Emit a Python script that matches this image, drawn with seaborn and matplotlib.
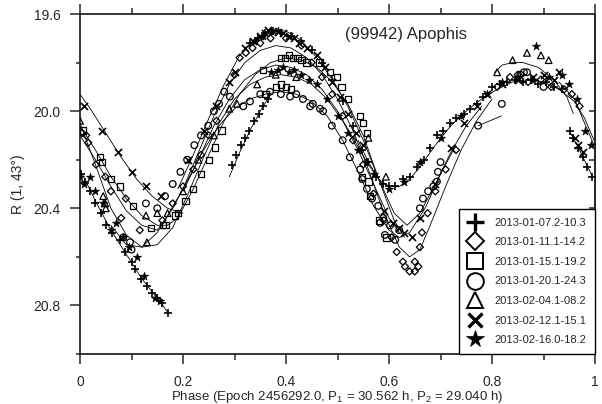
import numpy as np
import pandas as pd
import matplotlib
matplotlib.use("Agg")
import matplotlib.pyplot as plt
from matplotlib.lines import Line2D
from matplotlib.ticker import FixedLocator
import seaborn as sns

# --- observing sessions (legend labels) ---
sessions = ['2013-01-07.2-10.3', '2013-01-11.1-14.2', '2013-01-15.1-19.2',
            '2013-01-20.1-24.3', '2013-02-04.1-08.2', '2013-02-12.1-15.1',
            '2013-02-16.0-18.2']

# --- photometry (phase, R mag) ---
plus_phase = [0.002, 0.010, 0.020, 0.029, 0.040, 0.050, 0.062, 0.078, 0.087, 0.100, 0.107, 0.118, 0.130, 0.140, 0.150, 0.160, 0.171,
              0.295, 0.302, 0.312, 0.320, 0.328, 0.338, 0.347, 0.356, 0.365,
              0.330, 0.345, 0.360, 0.375, 0.390, 0.410, 0.430, 0.450, 0.470, 0.490, 0.510, 0.530,
              0.548, 0.560, 0.575, 0.588, 0.600, 0.612, 0.628, 0.640, 0.655, 0.668, 0.680, 0.693, 0.705, 0.718, 0.730, 0.745, 0.757, 0.770, 0.782,
              0.800, 0.815, 0.830, 0.845, 0.860, 0.875, 0.890, 0.905, 0.920, 0.935,
              0.951, 0.958, 0.967, 0.977, 0.984, 0.994]
plus_mag = [20.26, 20.29, 20.33, 20.38, 20.42, 20.47, 20.50, 20.53, 20.58, 20.62, 20.65, 20.69, 20.72, 20.75, 20.77, 20.79, 20.83,
            20.22, 20.18, 20.14, 20.11, 20.08, 20.04, 20.01, 19.98, 19.95,
            19.72, 19.70, 19.68, 19.67, 19.68, 19.69, 19.71, 19.75, 19.80, 19.87, 19.96, 20.06,
            20.16, 20.21, 20.27, 20.30, 20.31, 20.31, 20.28, 20.27, 20.23, 20.20, 20.15, 20.10, 20.08, 20.05, 20.03, 20.01, 19.99, 19.97, 19.94,
            19.90, 19.89, 19.88, 19.87, 19.88, 19.87, 19.89, 19.88, 19.90, 19.91,
            20.08, 20.11, 20.15, 20.19, 20.23, 20.27]

diamond_phase = [0.004, 0.012, 0.016, 0.031, 0.049, 0.060, 0.080, 0.089, 0.116,
                 0.160, 0.180, 0.200, 0.220, 0.235, 0.250, 0.265,
                 0.300, 0.310, 0.322, 0.335, 0.350, 0.370, 0.400, 0.430,
                 0.450, 0.470, 0.490, 0.510, 0.530, 0.550, 0.570, 0.590,
                 0.605, 0.615, 0.627, 0.631, 0.640, 0.650, 0.657, 0.650, 0.660, 0.664,
                 0.675, 0.690, 0.710, 0.730,
                 0.810, 0.835, 0.850, 0.870, 0.895, 0.915, 0.940, 0.955, 0.970]
diamond_mag = [20.09, 20.10, 20.13, 20.22, 20.27, 20.33, 20.44, 20.36, 20.49,
               20.45, 20.38, 20.31, 20.24, 20.18, 20.10, 20.04,
               19.85, 19.78, 19.76, 19.74, 19.72, 19.70, 19.70, 19.73,
               19.80, 19.86, 19.93, 20.02, 20.12, 20.22, 20.34, 20.45,
               20.52, 20.58, 20.62, 20.64, 20.66, 20.66, 20.64, 20.62, 20.56, 20.50,
               20.42, 20.33, 20.24, 20.16,
               19.90, 19.86, 19.85, 19.88, 19.87, 19.90, 19.91, 19.93, 19.98]

square_phase = [0.006, 0.039, 0.043, 0.060, 0.078, 0.103, 0.138, 0.161, 0.166, 0.184,
                0.190, 0.205, 0.220, 0.235, 0.250, 0.262, 0.275,
                0.355, 0.390, 0.398, 0.406, 0.414, 0.422, 0.430, 0.440,
                0.360, 0.380, 0.390, 0.400, 0.410,
                0.465, 0.485, 0.499, 0.508, 0.521, 0.544, 0.550, 0.557,
                0.547, 0.560, 0.563, 0.580, 0.595]
square_mag = [20.08, 20.19, 20.21, 20.28, 20.31, 20.39, 20.48, 20.47, 20.47, 20.43,
              20.42, 20.37, 20.32, 20.26, 20.20, 20.15, 20.08,
              19.83, 19.78, 19.78, 19.77, 19.78, 19.78, 19.79, 19.80,
              19.93, 19.90, 19.89, 19.90, 19.91,
              19.80, 19.84, 19.86, 19.90, 19.95, 20.02, 20.05, 20.09,
              20.27, 20.29, 20.35, 20.45, 20.52]

circle_phase = [0.084, 0.097, 0.100, 0.128,
                0.150, 0.165, 0.180, 0.195, 0.208, 0.222, 0.235, 0.249, 0.260, 0.270, 0.280, 0.291,
                0.317, 0.330, 0.350, 0.369, 0.390, 0.408, 0.420, 0.433, 0.447, 0.452, 0.466, 0.472,
                0.489, 0.510, 0.524, 0.544, 0.548, 0.557, 0.567, 0.579, 0.589, 0.602,
                0.583, 0.592, 0.612, 0.620,
                0.660, 0.666, 0.676, 0.686, 0.693, 0.695, 0.700,
                0.773, 0.819,
                0.855, 0.862, 0.868, 0.900]
circle_mag = [20.52, 20.54, 20.57, 20.38,
              20.40, 20.35, 20.30, 20.25, 20.20, 20.14, 20.10, 20.06, 20.00, 19.97, 19.92, 19.94,
              19.98, 19.96, 19.93, 19.92, 19.93, 19.94, 19.93, 19.95, 19.98, 19.97, 19.99, 20.00,
              20.06, 20.12, 20.19, 20.24, 20.28, 20.32, 20.36, 20.39, 20.44, 20.47,
              20.46, 20.51, 20.53, 20.49,
              20.40, 20.36, 20.33, 20.31, 20.29, 20.25, 20.21,
              20.06, 19.97,
              19.85, 19.84, 19.84, 19.90]

triangle_phase = [0.000, 0.045, 0.049, 0.050, 0.128, 0.130, 0.150,
                  0.170, 0.200, 0.230, 0.260, 0.290, 0.305,
                  0.344, 0.380, 0.420,
                  0.560, 0.594,
                  0.810, 0.840, 0.868, 0.895, 0.910]
triangle_mag = [20.04, 20.35, 20.38, 20.40, 20.43, 20.54, 20.42,
                20.42, 20.33, 20.20, 20.10, 19.99, 19.97,
                19.89, 19.85, 19.86,
                20.11, 20.27,
                19.84, 19.79, 19.76, 19.77, 19.79]

cross_phase = [0.008, 0.043, 0.074, 0.101, 0.128, 0.157,
               0.210, 0.240, 0.265, 0.290, 0.300,
               0.320, 0.335, 0.350, 0.360, 0.365, 0.375, 0.385, 0.395, 0.405, 0.415, 0.425, 0.440,
               0.460, 0.475, 0.490, 0.505, 0.520, 0.535, 0.550,
               0.590, 0.608, 0.620, 0.630, 0.645, 0.660,
               0.690, 0.720, 0.745, 0.770,
               0.790, 0.820, 0.850, 0.880, 0.900, 0.920, 0.930,
               0.961, 0.967, 0.977]
cross_mag = [19.98, 20.08, 20.17, 20.25, 20.31, 20.35,
             20.20, 20.08, 19.98, 19.88, 19.84,
             19.74, 19.71, 19.69, 19.68, 19.665, 19.67, 19.675, 19.68, 19.69, 19.70, 19.72, 19.74,
             19.77, 19.82, 19.88, 19.94, 20.01, 20.09, 20.14,
             20.41, 20.46, 20.48, 20.50, 20.52, 20.44,
             20.30, 20.15, 20.05, 19.98,
             19.93, 19.89, 19.87, 19.86, 19.85, 19.87, 19.84,
             20.11, 20.14, 20.17]

star_phase = [0.000, 0.008, 0.019, 0.030, 0.045, 0.060, 0.070, 0.083, 0.095, 0.110, 0.125, 0.146, 0.155,
              0.340, 0.355, 0.370, 0.385,
              0.370, 0.385, 0.395, 0.405, 0.415, 0.430, 0.445,
              0.460, 0.480, 0.500, 0.520, 0.540, 0.555, 0.570,
              0.600, 0.630, 0.660, 0.700, 0.740,
              0.790, 0.820, 0.850, 0.885, 0.880, 0.910, 0.935, 0.950,
              0.965, 0.980, 0.992]
star_mag = [20.27, 20.30, 20.27, 20.33, 20.38, 20.49, 20.46, 20.52, 20.56, 20.60, 20.68, 20.77, 20.78,
            19.71, 19.69, 19.67, 19.67,
            19.84, 19.83, 19.82, 19.84, 19.83, 19.85, 19.87,
            19.89, 19.95, 20.02, 20.09, 20.16, 20.21, 20.26,
            20.32, 20.29, 20.21, 20.11, 20.02,
            19.93, 19.88, 19.86, 19.73, 19.87, 19.86, 19.85, 19.89,
            19.95, 20.08, 20.14]

# --- fitted Fourier curves, as segments of (phase, mag) knots ---
plus_fit = [([0.0, 0.03, 0.06, 0.09, 0.12, 0.15, 0.171],
             [20.24, 20.37, 20.49, 20.59, 20.69, 20.77, 20.83]),
            ([0.29, 0.31, 0.33, 0.35, 0.37],
             [20.27, 20.17, 20.08, 20.00, 19.93]),
            ([0.54, 0.56, 0.58, 0.60, 0.62, 0.64, 0.66, 0.69, 0.72, 0.75, 0.78, 0.81, 0.84, 0.87, 0.90, 0.93, 0.96, 0.98, 1.0],
             [20.12, 20.21, 20.28, 20.31, 20.31, 20.28, 20.23, 20.14, 20.06, 20.00, 19.95, 19.91, 19.88, 19.87, 19.88, 19.91, 19.96, 20.03, 20.13]),
            ([0.95, 0.97, 0.995], [20.08, 20.16, 20.27])]
diamond_fit = [([0.0, 0.03, 0.06, 0.09, 0.12, 0.15],
                [20.10, 20.20, 20.31, 20.41, 20.47, 20.49]),
               ([0.15, 0.17, 0.20, 0.23, 0.26, 0.29, 0.32, 0.35, 0.38, 0.41, 0.44, 0.47, 0.50, 0.53, 0.56, 0.59, 0.62, 0.64, 0.66, 0.68, 0.71, 0.74, 0.77, 0.80],
                [20.49, 20.43, 20.32, 20.17, 20.02, 19.89, 19.80, 19.75, 19.73, 19.74, 19.78, 19.85, 19.95, 20.08, 20.24, 20.42, 20.56, 20.60, 20.57, 20.47, 20.31, 20.16, 20.04, 19.95])]
square_fit = [([0.0, 0.03, 0.06, 0.09, 0.12, 0.15, 0.17, 0.19],
               [20.06, 20.16, 20.27, 20.36, 20.43, 20.47, 20.47, 20.44]),
              ([0.19, 0.22, 0.25, 0.28, 0.31, 0.34, 0.37, 0.40, 0.43, 0.46, 0.49, 0.52, 0.55, 0.58, 0.61, 0.63],
               [20.44, 20.32, 20.18, 20.04, 19.93, 19.85, 19.80, 19.78, 19.79, 19.82, 19.88, 19.97, 20.10, 20.28, 20.45, 20.52])]
circle_fit = [([0.06, 0.09, 0.12, 0.15, 0.18, 0.21, 0.24, 0.27, 0.30, 0.33, 0.36, 0.39, 0.42, 0.45, 0.48, 0.51, 0.54, 0.57, 0.60, 0.62, 0.64, 0.67, 0.70, 0.73],
               [20.47, 20.55, 20.56, 20.50, 20.40, 20.28, 20.16, 20.06, 19.99, 19.95, 19.93, 19.92, 19.93, 19.96, 20.02, 20.12, 20.25, 20.39, 20.49, 20.52, 20.50, 20.40, 20.26, 20.14]),
              ([0.773, 0.818], [20.06, 20.02])]
triangle_fit = [([0.0, 0.03, 0.06, 0.09, 0.12, 0.15, 0.18],
                 [20.05, 20.22, 20.40, 20.51, 20.56, 20.55, 20.48]),
                ([0.18, 0.21, 0.24, 0.27, 0.30, 0.33, 0.36, 0.39, 0.42, 0.45, 0.48, 0.51, 0.54, 0.57, 0.60, 0.62],
                 [20.48, 20.34, 20.19, 20.05, 19.95, 19.89, 19.86, 19.85, 19.86, 19.89, 19.95, 20.04, 20.16, 20.30, 20.44, 20.50]),
                ([0.805, 0.82, 0.84, 0.86, 0.89, 0.92, 0.945, 0.958],
                 [19.84, 19.81, 19.80, 19.80, 19.82, 19.87, 19.94, 20.01])]
cross_fit = [([0.0, 0.02, 0.05, 0.08, 0.11, 0.14, 0.17, 0.20],
              [19.93, 19.99, 20.09, 20.19, 20.28, 20.35, 20.40, 20.42]),
             ([0.19, 0.22, 0.25, 0.28, 0.31, 0.34, 0.37, 0.40, 0.43, 0.46, 0.49, 0.52, 0.55, 0.58, 0.61, 0.635, 0.66, 0.69, 0.72, 0.75, 0.78],
              [20.32, 20.18, 20.03, 19.89, 19.77, 19.70, 19.67, 19.67, 19.71, 19.78, 19.87, 19.98, 20.12, 20.28, 20.42, 20.47, 20.42, 20.30, 20.17, 20.06, 19.98])]
star_fit = [([0.20, 0.23, 0.26, 0.29, 0.32, 0.35, 0.38, 0.41, 0.44, 0.47, 0.50, 0.53, 0.56, 0.59],
             [20.33, 20.20, 20.06, 19.95, 19.87, 19.83, 19.81, 19.82, 19.85, 19.91, 20.00, 20.11, 20.22, 20.31]),
            ([0.93, 0.96, 0.98, 1.0], [19.88, 19.95, 20.05, 20.15])]

points = [(plus_phase, plus_mag), (diamond_phase, diamond_mag), (square_phase, square_mag),
          (circle_phase, circle_mag), (triangle_phase, triangle_mag), (cross_phase, cross_mag),
          (star_phase, star_mag)]
fits = [plus_fit, diamond_fit, square_fit, circle_fit, triangle_fit, cross_fit, star_fit]

x_ticks = [0, 0.2, 0.4, 0.6, 0.8, 1.0]
x_tick_labels = ['0', '0.2', '0.4', '0.6', '0.8', '1']
y_ticks = [19.6, 20.0, 20.4, 20.8]
y_tick_labels = ['19.6', '20.0', '20.4', '20.8']

# marker style per session
markers = ['+', 'D', 's', 'o', '^', 'x', '*']
sizes = [34, 13, 21, 23, 23, 26, 40]
open_marker = [False, True, True, True, True, False, False]

frames = []
for name, (ph, mg) in zip(sessions, points):
    frames.append(pd.DataFrame({'phase': ph, 'mag': mg, 'session': name}))
df = pd.concat(frames, ignore_index=True)

sns.set_style("ticks")
plt.rcParams['font.family'] = ['Liberation Sans', 'DejaVu Sans']
plt.rcParams['mathtext.fontset'] = 'custom'
plt.rcParams['mathtext.rm'] = 'Liberation Sans'
plt.rcParams['mathtext.it'] = 'Liberation Sans:italic'

fig = plt.figure(figsize=(6.02, 4.04), dpi=100)
ax = fig.add_axes([80 / 602, 50 / 404, 515 / 602, 340 / 404])

# fitted curves
for segs in fits:
    for ph, mg in segs:
        sns.lineplot(x=ph, y=mg, sort=False, estimator=None, color='black', linewidth=0.6, ax=ax)

# data points
for i, name in enumerate(sessions):
    sub = df[df['session'] == name]
    if open_marker[i]:
        sns.scatterplot(data=sub, x='phase', y='mag', marker=markers[i], s=sizes[i],
                        facecolor='none', edgecolor='black', linewidth=0.9, ax=ax, zorder=3)
    elif markers[i] == '*':
        sns.scatterplot(data=sub, x='phase', y='mag', marker='*', s=sizes[i],
                        facecolor='black', edgecolor='black', linewidth=0.4, ax=ax, zorder=3)
    else:
        sns.scatterplot(data=sub, x='phase', y='mag', marker=markers[i], s=sizes[i],
                        color='black', linewidth=1.2, ax=ax, zorder=3)

ax.set_xlim(0, 1)
ax.set_ylim(21.0, 19.6)
ax.xaxis.set_major_locator(FixedLocator(x_ticks))
ax.xaxis.set_minor_locator(FixedLocator([0.1, 0.3, 0.5, 0.7, 0.9]))
ax.yaxis.set_major_locator(FixedLocator(y_ticks))
ax.yaxis.set_minor_locator(FixedLocator([19.8, 20.2, 20.6, 21.0]))
ax.set_xticklabels(x_tick_labels)
ax.set_yticklabels(y_tick_labels)
ax.tick_params(axis='x', which='major', direction='out', length=7, width=1.1, top=True,
               labeltop=False, labelsize=10, pad=8)
ax.tick_params(axis='x', which='minor', direction='out', length=4, width=1.1, top=True)
ax.tick_params(axis='y', which='major', direction='out', length=7, width=1.1, right=False,
               labelsize=10, pad=7)
ax.tick_params(axis='y', which='minor', direction='out', length=3, width=1.1, right=False)
for sp in ax.spines.values():
    sp.set_linewidth(1.3)
    sp.set_visible(True)

right = ax.secondary_yaxis('right')
right.yaxis.set_major_locator(FixedLocator([19.8, 20.0, 20.2, 20.4, 20.6, 20.8, 21.0]))
right.tick_params(direction='in', length=4, width=1.1, labelright=False)
right.spines['right'].set_linewidth(1.3)

ax.set_xlabel('Phase (Epoch 2456292.0, P$_1$ = 30.562 h, P$_2$ = 29.040 h)', fontsize=9.5, labelpad=0)
ax.set_ylabel('R (1, 43°)', fontsize=10, labelpad=6)
ax.text(0.515, 0.94, '(99942) Apophis', transform=ax.transAxes, fontsize=12, va='center', ha='left')

# legend with big markers
handles = []
for i, name in enumerate(sessions):
    mfc = 'none' if open_marker[i] else 'black'
    mew = 1.4 if open_marker[i] else 2.4
    ms = {'+': 13, 'D': 9.5, 's': 12, 'o': 12, '^': 11, 'x': 10, '*': 13}[markers[i]]
    if markers[i] == '*':
        mew = 0.5
    handles.append(Line2D([], [], linestyle='', marker=markers[i], color='black',
                          markerfacecolor=mfc, markeredgewidth=mew, markersize=ms, label=name))
leg = ax.legend(handles=handles, loc='lower right', borderaxespad=0, fontsize=8,
                frameon=True, fancybox=False, framealpha=1, edgecolor='black',
                handlelength=1.4, handletextpad=1.0, labelspacing=0.86, borderpad=0.8)
leg.get_frame().set_linewidth(1.0)

fig.savefig('out.png', dpi=100)
